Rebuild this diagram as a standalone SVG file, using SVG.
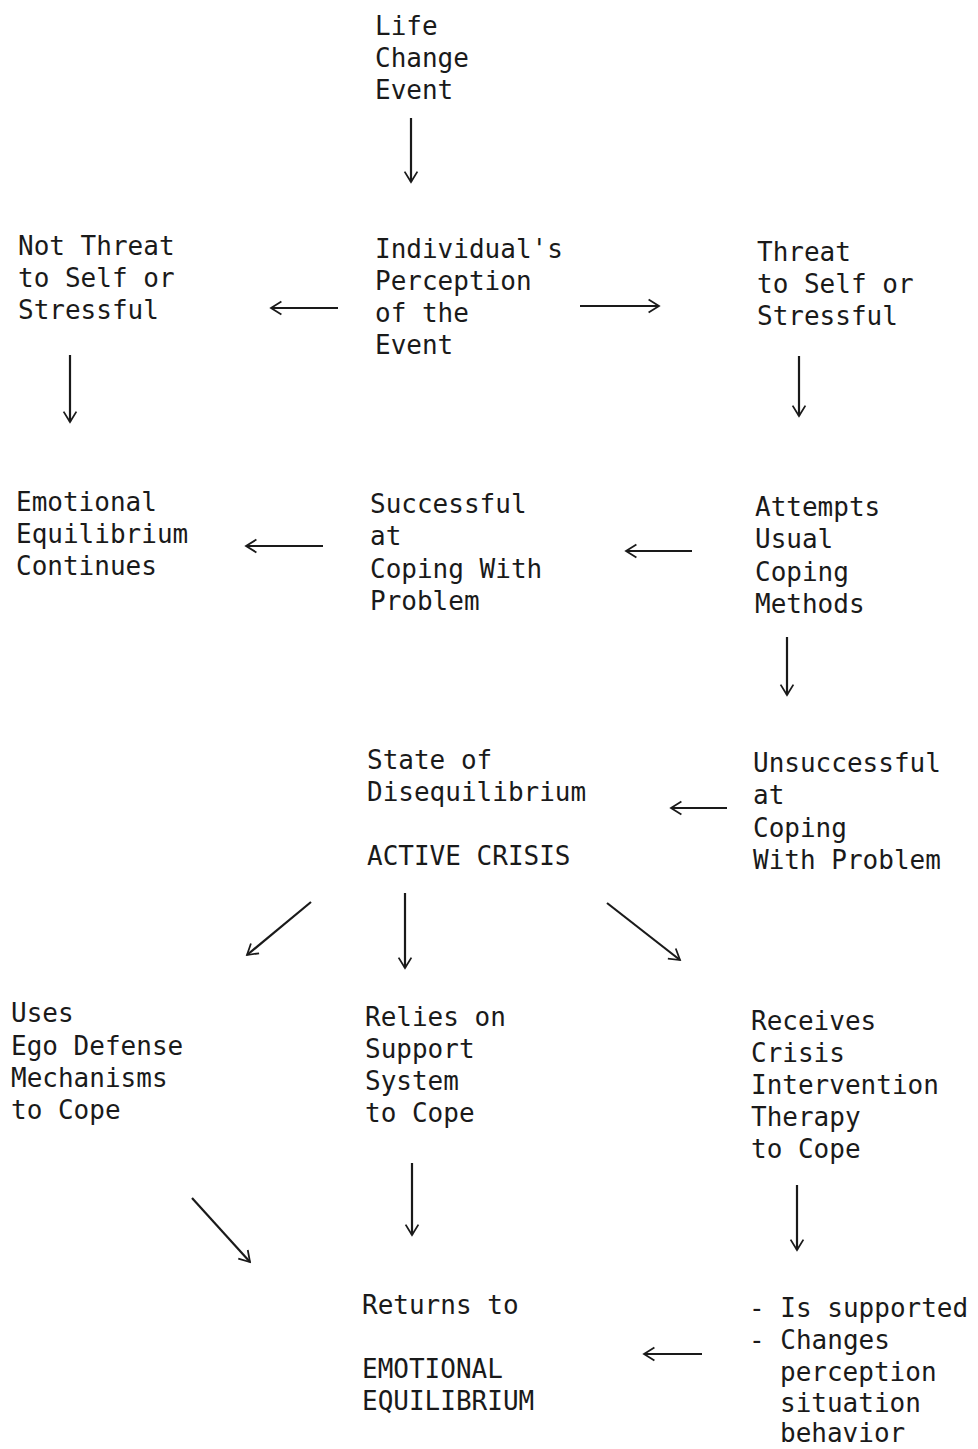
<svg xmlns="http://www.w3.org/2000/svg" width="978" height="1449" viewBox="0 0 978 1449">
<style>
text{font-family:"DejaVu Sans Mono","Liberation Mono",monospace;font-size:26px;fill:#1a1a1a}
.c line{stroke:#1a1a1a;stroke-width:2.2;fill:none;marker-end:url(#ah)}
</style>
<defs>
<marker id="ah" viewBox="0 0 20 20" refX="18" refY="10" markerWidth="16" markerHeight="16" markerUnits="userSpaceOnUse" orient="auto">
<path d="M5,2 L18,10 L5,18" fill="none" stroke="#1a1a1a" stroke-width="2.2"/>
</marker>
</defs>
<rect width="978" height="1449" fill="#fff"/>
<g id="life"><text x="375" y="35">Life</text><text x="375" y="67">Change</text><text x="375" y="99">Event</text></g>
<g id="notthreat"><text x="18" y="255">Not Threat</text><text x="18" y="287">to Self or</text><text x="18" y="319">Stressful</text></g>
<g id="perception"><text x="375" y="258">Individual's</text><text x="375" y="290">Perception</text><text x="375" y="322">of the</text><text x="375" y="354">Event</text></g>
<g id="threat"><text x="757" y="261">Threat</text><text x="757" y="293">to Self or</text><text x="757" y="325">Stressful</text></g>
<g id="emotional"><text x="16" y="511">Emotional</text><text x="16" y="543">Equilibrium</text><text x="16" y="575">Continues</text></g>
<g id="successful"><text x="370" y="513">Successful</text><text x="370" y="545">at</text><text x="370" y="578">Coping With</text><text x="370" y="610">Problem</text></g>
<g id="attempts"><text x="755" y="516">Attempts</text><text x="755" y="548">Usual</text><text x="755" y="581">Coping</text><text x="755" y="613">Methods</text></g>
<g id="state"><text x="367" y="769">State of</text><text x="367" y="801">Disequilibrium</text><text x="367" y="865">ACTIVE CRISIS</text></g>
<g id="unsuccessful"><text x="753" y="772">Unsuccessful</text><text x="753" y="804">at</text><text x="753" y="837">Coping</text><text x="753" y="869">With Problem</text></g>
<g id="ego"><text x="11" y="1022">Uses</text><text x="11" y="1055">Ego Defense</text><text x="11" y="1087">Mechanisms</text><text x="11" y="1119">to Cope</text></g>
<g id="relies"><text x="365" y="1026">Relies on</text><text x="365" y="1058">Support</text><text x="365" y="1090">System</text><text x="365" y="1122">to Cope</text></g>
<g id="receives"><text x="751" y="1030">Receives</text><text x="751" y="1062">Crisis</text><text x="751" y="1094">Intervention</text><text x="751" y="1126">Therapy</text><text x="751" y="1158">to Cope</text></g>
<g id="returns"><text x="362" y="1314">Returns to</text><text x="362" y="1378">EMOTIONAL</text><text x="362" y="1410">EQUILIBRIUM</text></g>
<g id="supported"><text x="749" y="1317">- Is supported</text><text x="749" y="1349">- Changes</text><text x="780" y="1381">perception</text><text x="780" y="1412">situation</text><text x="780" y="1442">behavior</text></g>
<g class="c" id="connectors">
<line x1="411" y1="118" x2="411" y2="182"/>
<line x1="338" y1="308" x2="271" y2="308"/>
<line x1="580" y1="306" x2="659" y2="306"/>
<line x1="70" y1="355" x2="70" y2="422"/>
<line x1="799" y1="356" x2="799" y2="416"/>
<line x1="323" y1="546" x2="246" y2="546"/>
<line x1="692" y1="551" x2="626" y2="551"/>
<line x1="787" y1="637" x2="787" y2="695"/>
<line x1="727" y1="808" x2="671" y2="808"/>
<line x1="311" y1="902" x2="247" y2="955"/>
<line x1="405" y1="893" x2="405" y2="968"/>
<line x1="607" y1="903" x2="680" y2="960"/>
<line x1="192" y1="1198" x2="250" y2="1262"/>
<line x1="412" y1="1163" x2="412" y2="1235"/>
<line x1="797" y1="1185" x2="797" y2="1250"/>
<line x1="702" y1="1354" x2="644" y2="1354"/>
</g>
</svg>
